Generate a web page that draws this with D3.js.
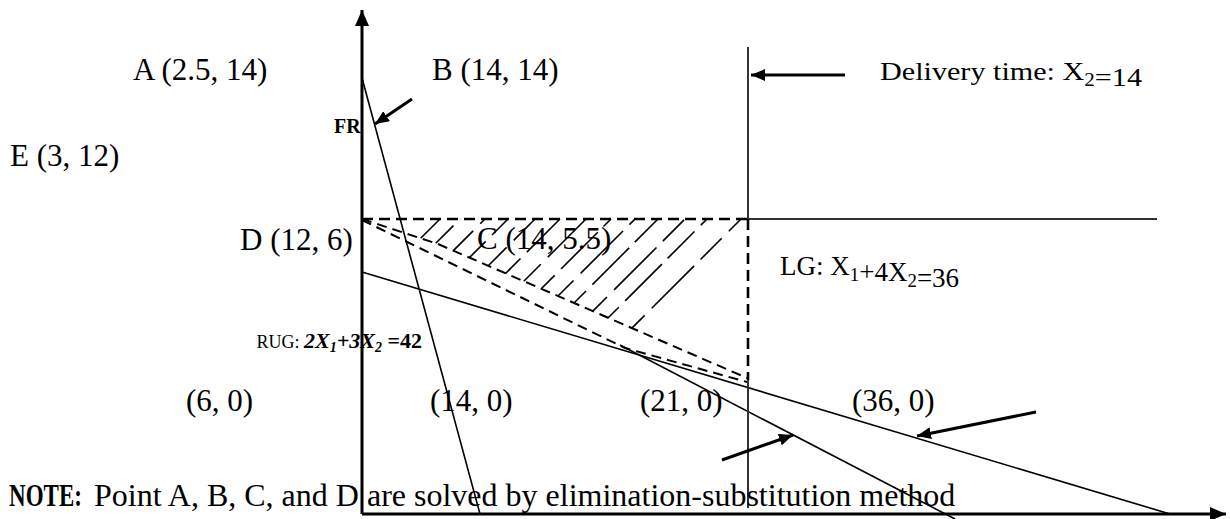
<!DOCTYPE html>
<html>
<head>
<meta charset="utf-8">
<script src="https://cdn.jsdelivr.net/npm/d3@7"></script>
<style>
  body { margin: 0; background: #fff; }
  text { font-family: "Liberation Serif", "Times New Roman", serif; fill: #000; }
</style>
</head>
<body>
<div id="chart"></div>
<script>
const width = 1230, height = 519;

// diagram units (not to scale), origin at the axes corner
const axisX = [[0, 0], [86.4, 0]];
const axisY = [[0, 0], [0, 50.4]];
const frLine = [[0, 43.6], [11.8, 0]];
const lgLine = [[0, 24.2], [80.8, 0]];
const rugLine = [[25.8, 16.9], [59.3, -0.5]];
const dashUpper = [[0, 29.5], [7.6, 27.0], [38.5, 13.6]];
const dashLower = [[0, 29.4], [26.3, 16.6], [38.5, 13.2]];
const topDashed = [[0, 29.5], [38.6, 29.5]];
const topSolid = [[38.6, 29.5], [79.5, 29.5]];
const deliveryTop = [[38.6, 46.7], [38.6, 29.5]];
const deliveryDashed = [[38.6, 29.5], [38.6, 13.4]];
const deliveryBottom = [[38.6, 13.4], [38.6, 0.6]];
const hatchTops = [7.8, 9.8, 12.3, 14.6, 17.3, 19.8, 22.4, 24.9, 27.3, 29.6, 32.3, 34.5, 37.9];

// pointer arrows: [from, tip]
const arrows = [
  [[5.0, 41.5], [1.3, 39.0]],
  [[48.3, 43.9], [38.9, 43.9]],
  [[36.0, 5.4], [43.1, 7.9]],
  [[67.4, 10.2], [55.5, 7.8]]
];

const pointLabels = ["A (2.5, 14)", "B (14, 14)", "E (3, 12)", "D (12, 6)", "C (14, 5.5)"];
const pointPos = [[-22.9, 43.4], [7.0, 43.4], [-35.2, 34.8], [-12.2, 26.4], [11.5, 26.5]];
const interceptLabels = ["(6, 0)", "(14, 0)", "(21, 0)", "(36, 0)"];
const interceptPos = [[-17.6, 10.3], [6.8, 10.3], [27.8, 10.3], [49.0, 10.3]];

const x = d3.scaleLinear().domain([0, 86.4]).range([362, 1226]);
const y = d3.scaleLinear().domain([0, 50.4]).range([514, 10]);
const line = d3.line().x(d => x(d[0])).y(d => y(d[1]));

const svg = d3.select("#chart")
  .append("svg")
  .attr("width", width)
  .attr("height", height);

const defs = svg.append("defs");
function marker(id, len, half) {
  defs.append("marker")
    .attr("id", id)
    .attr("markerUnits", "userSpaceOnUse")
    .attr("viewBox", `0 ${-half} ${len} ${half * 2}`)
    .attr("refX", len).attr("refY", 0)
    .attr("markerWidth", len).attr("markerHeight", half * 2)
    .attr("orient", "auto")
    .append("path")
    .attr("d", `M0,${-half}L${len},0L0,${half}Z`)
    .attr("fill", "#000");
}
marker("head-axis", 16, 7);
marker("head-ptr", 14, 6);

// where a 45deg hatch line (top at t) meets the upper dashed boundary
function hatchFoot(t) {
  for (let i = 0; i < dashUpper.length - 1; i++) {
    const [x0, y0] = dashUpper[i], [x1, y1] = dashUpper[i + 1];
    const m = (y1 - y0) / (x1 - x0);
    const xx = (y0 - m * x0 - 29.5 + t) / (1 - m);
    if (xx >= x0 && xx <= x1) return [xx, xx + 29.5 - t];
  }
  return [t, 29.5];
}

svg.append("g")
  .selectAll("line")
  .data(hatchTops)
  .enter()
  .append("line")
  .attr("x1", d => x(hatchFoot(d)[0]))
  .attr("y1", d => y(hatchFoot(d)[1]))
  .attr("x2", d => x(d))
  .attr("y2", y(29.5))
  .attr("stroke", "#000")
  .attr("stroke-width", 1.6)
  .attr("stroke-dasharray", (d, i) => i % 2 ? "38,9,52,8" : "30,10,60,9")
  .attr("stroke-dashoffset", (d, i) => (i * 13) % 24);

// constraint lines
svg.selectAll(".solid")
  .data([frLine, lgLine, rugLine])
  .enter()
  .append("path")
  .attr("d", line)
  .attr("fill", "none")
  .attr("stroke", "#000")
  .attr("stroke-width", 1.6);

svg.selectAll(".dash")
  .data([dashUpper, dashLower])
  .enter()
  .append("path")
  .attr("d", line)
  .attr("fill", "none")
  .attr("stroke", "#000")
  .attr("stroke-width", 2)
  .attr("stroke-dasharray", "10,6");

svg.selectAll(".gray")
  .data([topSolid, deliveryTop, deliveryBottom])
  .enter()
  .append("path")
  .attr("d", line)
  .attr("fill", "none")
  .attr("stroke", "#333")
  .attr("stroke-width", 2);

svg.selectAll(".boxdash")
  .data([topDashed, deliveryDashed])
  .enter()
  .append("path")
  .attr("d", line)
  .attr("fill", "none")
  .attr("stroke", "#000")
  .attr("stroke-width", 2.6)
  .attr("stroke-dasharray", "11,6");

// axes
svg.selectAll(".axis")
  .data([axisX, axisY])
  .enter()
  .append("path")
  .attr("d", line)
  .attr("stroke", "#000")
  .attr("stroke-width", 3)
  .attr("marker-end", "url(#head-axis)");

// pointer arrows
svg.selectAll(".ptr")
  .data(arrows)
  .enter()
  .append("path")
  .attr("d", line)
  .attr("stroke", "#000")
  .attr("stroke-width", 3)
  .attr("marker-end", "url(#head-ptr)");

// labels
svg.selectAll(".pt")
  .data(pointLabels)
  .enter()
  .append("text")
  .attr("x", (d, i) => x(pointPos[i][0]))
  .attr("y", (d, i) => y(pointPos[i][1]))
  .attr("font-size", 31)
  .text(d => d);

svg.selectAll(".icpt")
  .data(interceptLabels)
  .enter()
  .append("text")
  .attr("x", (d, i) => x(interceptPos[i][0]))
  .attr("y", (d, i) => y(interceptPos[i][1]))
  .attr("font-size", 31)
  .text(d => d);

svg.append("text")
  .attr("x", x(-2.8)).attr("y", y(38.1))
  .attr("font-size", 20).attr("font-weight", "bold")
  .text("FR");

function subText(sel, parts) {
  parts.forEach(p => {
    if (p.sub) {
      sel.append("tspan").attr("dy", 6).attr("font-size", "0.7em").text(p.sub);
      sel.append("tspan").attr("dy", -6).text("");
    } else {
      sel.append("tspan").text(p.t);
    }
  });
}

const dt = svg.append("text").attr("x", x(51.8)).attr("y", y(43.4)).attr("font-size", 26)
  .attr("textLength", 262).attr("lengthAdjust", "spacingAndGlyphs");
subText(dt, [{ t: "Delivery time: X" }, { sub: "2" }, { t: "=14" }]);

const lg = svg.append("text").attr("x", x(41.8)).attr("y", y(23.9)).attr("font-size", 27);
subText(lg, [{ t: "LG: X" }, { sub: "1" }, { t: "+4X" }, { sub: "2" }, { t: "=36" }]);

const rug = svg.append("text").attr("x", x(6.0)).attr("y", y(16.6)).attr("text-anchor", "end");
rug.append("tspan").attr("font-size", 18).text("RUG: ");
const bi = (t, dy, size) => rug.append("tspan")
  .attr("font-size", size).attr("font-weight", "bold").attr("font-style", "italic")
  .attr("dy", dy).text(t);
bi("2X", 0, 22);
bi("1", 4, 14);
bi("+3X", -4, 22);
bi("2", 4, 14);
rug.append("tspan").attr("font-size", 22).attr("font-weight", "bold").attr("dy", -4).text(" =42");

// condensed heading word of the note
svg.append("text")
  .attr("transform", `translate(${x(-35.3)},${y(0.8)}) scale(0.72,1)`)
  .attr("font-size", 32)
  .attr("font-weight", "bold").attr("fill", "#444")
  .text("NOTE:");
svg.append("text").attr("x", x(-26.8)).attr("y", y(0.8)).attr("font-size", 32)
  .text("Point A, B, C, and D are solved by elimination-substitution method");
</script>
</body>
</html>
